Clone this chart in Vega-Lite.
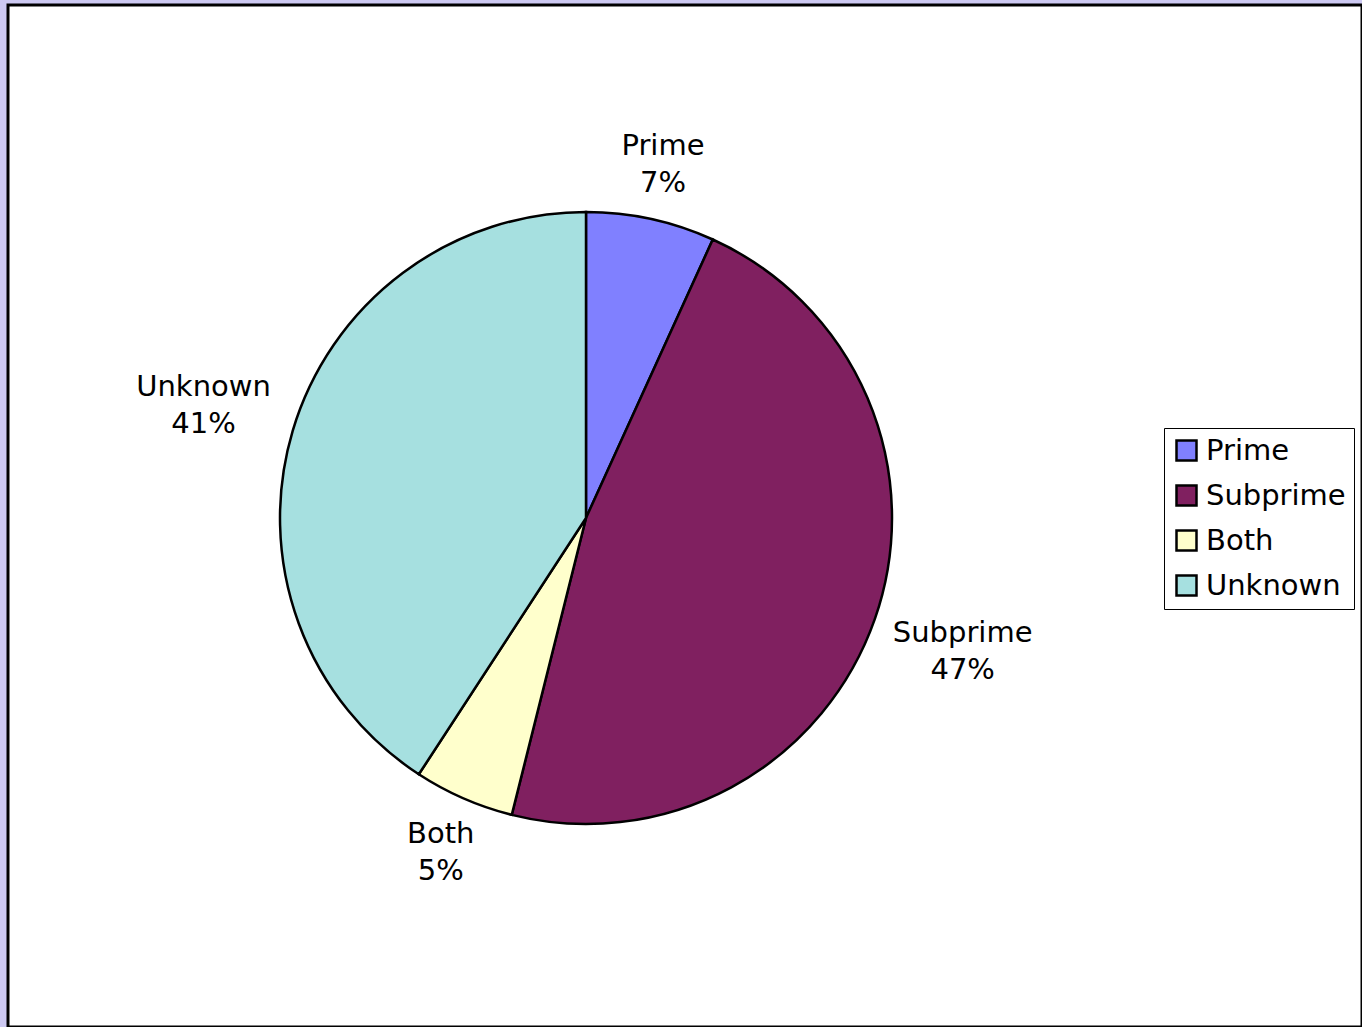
{
  "$schema": "https://vega.github.io/schema/vega-lite/v6.json",
  "autosize": {"type": "none"},
  "padding": {"left": 8, "top": 5, "right": 0, "bottom": 0},
  "width": 1354,
  "height": 1022,
  "background": "#cdc9f2",
  "view": {"fill": "white", "stroke": "black", "strokeWidth": 3},
  "config": {
    "view": {"fill": "white", "stroke": "black", "strokeWidth": 3},
    "font": "DejaVu Sans",
    "legend": {
      "orient": "none",
      "legendX": 1156,
      "legendY": 423,
      "title": null,
      "strokeColor": "#000000",
      "strokeWidth": 1,
      "fillColor": "white",
      "padding": 8,
      "labelFont": "DejaVu Sans",
      "labelFontSize": 29,
      "labelColor": "black",
      "labelOffset": 5,
      "symbolType": "square",
      "symbolSize": 400,
      "symbolStrokeColor": "black",
      "symbolStrokeWidth": 2.5,
      "rowPadding": 14,
      "labelLimit": 400
    }
  },
  "data": {
    "values": [
      {"category": "Prime", "value": 6.8, "rank": 1, "label": "Prime\n7%"},
      {"category": "Subprime", "value": 47.1, "rank": 2, "label": "Subprime\n47%"},
      {"category": "Both", "value": 5.3, "rank": 3, "label": "Both\n5%"},
      {"category": "Unknown", "value": 40.8, "rank": 4, "label": "Unknown\n41%"}
    ]
  },
  "encoding": {
    "theta": {"field": "value", "type": "quantitative", "stack": true},
    "order": {"field": "rank", "type": "quantitative"}
  },
  "layer": [
    {
      "mark": {"type": "arc", "radius": 306, "stroke": "black", "strokeWidth": 2.5, "xOffset": -99, "yOffset": 2},
      "encoding": {
        "color": {
          "field": "category",
          "type": "nominal",
          "sort": ["Prime", "Subprime", "Both", "Unknown"],
          "scale": {"domain": ["Prime", "Subprime", "Both", "Unknown"], "range": ["#8080ff", "#802060", "#ffffcc", "#a6e0e0"]}
        }
      }
    },
    {
      "mark": {"type": "text", "radius": 363, "fontSize": 29, "font": "DejaVu Sans", "color": "black", "align": "center", "baseline": "middle", "lineBreak": "\n", "lineHeight": 37, "xOffset": -99, "yOffset": -15},
      "encoding": {
        "text": {
          "condition": {"test": "datum.category === 'Prime' || datum.category === 'Both'", "field": "label"},
          "value": ""
        }
      }
    },
    {
      "mark": {"type": "text", "radius": 399, "fontSize": 29, "font": "DejaVu Sans", "color": "black", "align": "center", "baseline": "middle", "lineBreak": "\n", "lineHeight": 37, "xOffset": -99, "yOffset": -15},
      "encoding": {
        "text": {
          "condition": {"test": "datum.category === 'Subprime' || datum.category === 'Unknown'", "field": "label"},
          "value": ""
        }
      }
    }
  ]
}
